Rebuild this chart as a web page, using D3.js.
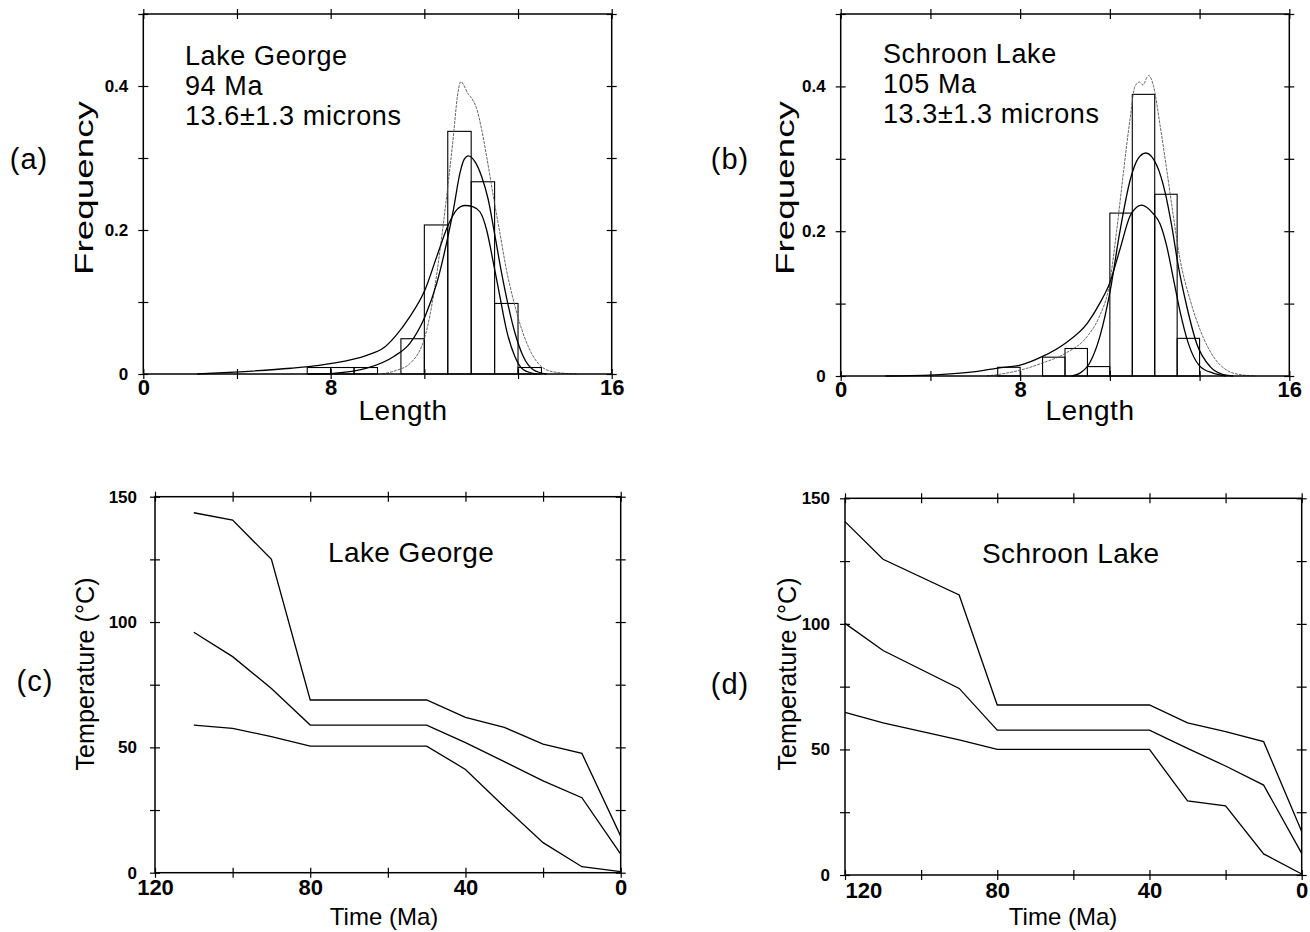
<!DOCTYPE html>
<html>
<head>
<meta charset="utf-8">
<script src="https://cdn.jsdelivr.net/npm/d3@7"></script>
<style>
  body { margin: 0; background: #fff; }
  svg text { font-family: "Liberation Sans", Arial, Helvetica, sans-serif; fill: #000; }
</style>
</head>
<body>
<svg id="fig" width="1310" height="932"></svg>
<script>
// ---- track length histograms (a, b) ----
const lengthTicks = [0, 4, 8, 12, 16, 20];
const lengthLabelValues = [0, 8, 20];
const lengthLabelText = ["0", "8", "16"];
const freqTicks = [0, 0.1, 0.2, 0.3, 0.4, 0.5];
const freqLabelValues = [0, 0.2, 0.4];
const freqLabelText = ["0", "0.2", "0.4"];

const lakeGeorgeInfo = ["Lake George", "94 Ma", "13.6±1.3 microns"];
const schroonInfo = ["Schroon Lake", "105 Ma", "13.3±1.3 microns"];

// bins are 1 micron wide, given by their left edge
const lakeGeorgeBinStart = [7, 8, 9, 11, 12, 13, 14, 15, 16];
const lakeGeorgeFreq = [0.009, 0.009, 0.009, 0.049, 0.207, 0.337, 0.267, 0.098, 0.009];
const schroonBinStart = [7, 9, 10, 11, 12, 13, 14, 15];
const schroonFreq = [0.012, 0.026, 0.038, 0.013, 0.225, 0.389, 0.251, 0.052];

// model length distributions, [length, frequency]
const lakeGeorgeTall = [[10.2,0],[10.8,0.005],[11.4,0.015],[12.07,0.057],[12.38,0.107],[12.67,0.172],[12.95,0.246],[13.24,0.330],[13.41,0.385],[13.56,0.406],[13.7,0.400],[13.85,0.390],[14.02,0.383],[14.23,0.369],[14.45,0.339],[14.66,0.302],[14.95,0.246],[15.23,0.195],[15.51,0.144],[15.8,0.103],[16.08,0.070],[16.51,0.033],[16.94,0.012],[17.5,0.003],[18.5,0]];
const lakeGeorgeMid = [[7.0,0],[8.11,0.001],[9.54,0.008],[10.68,0.024],[11.39,0.043],[12.03,0.080],[12.53,0.126],[12.95,0.182],[13.24,0.228],[13.52,0.279],[13.7,0.298],[13.88,0.303],[14.16,0.295],[14.45,0.274],[14.73,0.242],[15.02,0.191],[15.30,0.140],[15.59,0.094],[15.87,0.057],[16.23,0.024],[16.65,0.006],[17.22,0]];
const lakeGeorgeLow = [[2.3,0],[4.1,0.003],[6.3,0.008],[7.5,0.012],[8.11,0.015],[9.54,0.026],[10.25,0.036],[10.75,0.052],[11.39,0.080],[12.03,0.117],[12.53,0.163],[13.02,0.207],[13.38,0.228],[13.73,0.234],[14.09,0.232],[14.38,0.225],[14.66,0.200],[14.95,0.154],[15.23,0.107],[15.51,0.061],[15.87,0.024],[16.23,0.006],[16.8,0]];

const schroonTall = [[6.5,0],[7.0,0.002],[8.0,0.008],[9.0,0.018],[10.0,0.031],[11.0,0.055],[11.5,0.08],[12.0,0.13],[12.3,0.2],[12.6,0.28],[12.9,0.355],[13.12,0.400],[13.32,0.406],[13.47,0.402],[13.72,0.415],[13.95,0.400],[14.24,0.346],[14.53,0.286],[14.83,0.221],[15.13,0.161],[15.57,0.106],[16.02,0.064],[16.61,0.027],[17.21,0.008],[17.8,0.002],[18.5,0]];
const schroonMid = [[10.3,0],[10.67,0.004],[11.1,0.018],[11.56,0.055],[12.0,0.115],[12.45,0.2],[12.9,0.27],[13.25,0.300],[13.6,0.308],[14.09,0.291],[14.46,0.254],[14.76,0.207],[15.05,0.152],[15.43,0.096],[15.87,0.045],[16.47,0.013],[17.06,0.002],[17.5,0]];
const schroonLow = [[2.0,0],[4.4,0.002],[6.0,0.006],[7.0,0.011],[8.0,0.015],[9.0,0.027],[10.0,0.045],[11.0,0.073],[11.56,0.101],[12.0,0.129],[12.45,0.175],[12.9,0.221],[13.19,0.233],[13.42,0.236],[13.64,0.233],[13.94,0.224],[14.24,0.210],[14.53,0.180],[14.83,0.135],[15.13,0.089],[15.5,0.045],[16.0,0.014],[16.6,0.004],[17.2,0]];

// ---- thermal histories (c, d) ----
const timeTicks = [120, 100, 80, 60, 40, 20, 0];
const timeLabelValues = [120, 80, 40, 0];
const tempTicks = [0, 25, 50, 75, 100, 125, 150];
const tempLabelValues = [0, 50, 100, 150];

const lakeGeorgeTime = [110, 100, 90, 80, 50, 40, 30, 20, 10, 0];
const lakeGeorgeUpper = [143.6, 140.7, 125.0, 68.9, 68.9, 62.0, 58.0, 51.3, 47.6, 14.6];
const lakeGeorgeMiddle = [95.9, 86.2, 73.5, 58.9, 58.9, 51.9, 44.3, 36.6, 29.9, 7.4];
const lakeGeorgeLower = [58.9, 57.6, 54.3, 50.5, 50.5, 41.2, 26.3, 12.0, 2.4, 0.4];

const schroonTime = [120, 110, 90, 80, 40, 30, 20, 10, 0];
const schroonUpper = [140.7, 125.7, 111.5, 67.7, 67.7, 60.6, 57.1, 53.1, 17.3];
const schroonMiddle = [100.2, 89.4, 74.3, 57.7, 57.7, 50.4, 43.4, 35.8, 8.6];
const schroonLower = [64.8, 60.6, 53.8, 50.0, 50.0, 29.5, 27.5, 8.4, 0.4];

const svg = d3.select("#fig");
svg.append("rect").attr("width", 1310).attr("height", 932).attr("fill", "#fff");

// ticks that cross the frame line
function crossTicks(axisFn, scale, values, pos, horizontal) {
  const g = svg.append("g")
    .attr("transform", horizontal ? `translate(0,${pos})` : `translate(${pos},0)`)
    .call(axisFn(scale).tickValues(values).tickSize(5).tickFormat(""));
  g.select(".domain").remove();
  g.selectAll(".tick line")
    .attr(horizontal ? "y1" : "x1", -5)
    .attr(horizontal ? "y2" : "x2", 5)
    .attr("stroke", "#000").attr("stroke-width", 1.2);
}

function tickLabels(axisFn, scale, values, texts, pos, horizontal, pad, size) {
  const g = svg.append("g")
    .attr("transform", horizontal ? `translate(0,${pos})` : `translate(${pos},0)`)
    .call(axisFn(scale).tickValues(values).tickFormat((d, i) => texts[i]).tickSize(0).tickPadding(pad));
  g.select(".domain").remove();
  g.selectAll("text").attr("font-size", size).attr("font-weight", "bold");
  return g;
}

function frame(p) {
  svg.append("rect")
    .attr("x", p.left).attr("y", p.top)
    .attr("width", p.right - p.left).attr("height", p.bottom - p.top)
    .attr("fill", "none").attr("stroke", "#000").attr("stroke-width", 1.5);
}

function rotatedLabel(text, x, y, len) {
  svg.append("text")
    .attr("transform", `translate(${x},${y}) rotate(-90)`)
    .attr("text-anchor", "middle")
    .attr("font-size", 26)
    .attr("textLength", len).attr("lengthAdjust", "spacingAndGlyphs")
    .text(text);
}

function drawHist(p) {
  const x = d3.scaleLinear().domain([0, 20]).range([p.left, p.right]);
  const y = d3.scaleLinear().domain([0, 0.5]).range([p.bottom, p.top]);

  svg.append("g").selectAll("rect")
    .data(p.binStart)
    .enter().append("rect")
    .attr("x", d => x(d))
    .attr("y", (d, i) => y(p.freq[i]))
    .attr("width", d => x(d + 1) - x(d))
    .attr("height", (d, i) => y(0) - y(p.freq[i]))
    .attr("fill", "none").attr("stroke", "#000").attr("stroke-width", 1.1);

  const line = d3.line().x(d => x(d[0])).y(d => y(d[1])).curve(d3.curveMonotoneX);
  p.curves.forEach((c, i) => {
    svg.append("path").attr("d", line(c)).attr("fill", "none")
      .attr("stroke", i === 0 ? "#555" : "#000")
      .attr("stroke-width", i === 0 ? 0.9 : 1.3)
      .attr("stroke-dasharray", i === 0 ? "3,1" : null);
  });

  frame(p);
  crossTicks(d3.axisBottom, x, lengthTicks, p.bottom, true);
  crossTicks(d3.axisTop, x, lengthTicks, p.top, true);
  crossTicks(d3.axisLeft, y, freqTicks, p.left, false);
  crossTicks(d3.axisRight, y, freqTicks, p.right, false);
  tickLabels(d3.axisBottom, x, lengthLabelValues, lengthLabelText, p.bottom, true, 5, 22);
  tickLabels(d3.axisLeft, y, freqLabelValues, freqLabelText, p.left, false, 15, 17);

  p.info.forEach((t, i) => {
    svg.append("text").attr("x", p.infoX).attr("y", p.infoY + i * 30)
      .attr("font-size", 27).attr("letter-spacing", 0.6).text(t);
  });
  svg.append("text").attr("x", p.tagX).attr("y", 169).attr("text-anchor", "middle")
    .attr("font-size", 29).attr("letter-spacing", 1).text(p.tag);
  rotatedLabel("Frequency", p.yLabelX, 188, 174);
  svg.append("text").attr("x", p.xLabelX).attr("y", 420).attr("text-anchor", "middle")
    .attr("font-size", 28).attr("letter-spacing", 0.6).text("Length");
}

function drawHistory(p) {
  const x = d3.scaleLinear().domain([120, 0]).range([p.left, p.right]);
  const y = d3.scaleLinear().domain([0, 150]).range([p.bottom, p.top]);
  const line = d3.line().x(d => x(d[0])).y(d => y(d[1]));

  p.series.forEach(s => {
    svg.append("path").attr("d", line(p.time.map((t, i) => [t, s[i]])))
      .attr("fill", "none").attr("stroke", "#000").attr("stroke-width", 1.3);
  });

  frame(p);
  crossTicks(d3.axisBottom, x, timeTicks, p.bottom, true);
  crossTicks(d3.axisTop, x, timeTicks, p.top, true);
  crossTicks(d3.axisLeft, y, tempTicks, p.left, false);
  crossTicks(d3.axisRight, y, tempTicks, p.right, false);
  const xl = tickLabels(d3.axisBottom, x, timeLabelValues, timeLabelValues.map(String), p.bottom, true, 7, 22);
  if (p.firstStart) xl.select(".tick text").attr("text-anchor", "start");
  tickLabels(d3.axisLeft, y, tempLabelValues, tempLabelValues.map(String), p.left, false, p.yPad, 17);

  svg.append("text").attr("x", p.titleX).attr("y", p.titleY)
    .attr("font-size", 28).attr("letter-spacing", 0.4).text(p.title);
  svg.append("text").attr("x", p.tagX).attr("y", p.tagY).attr("text-anchor", "middle")
    .attr("font-size", 29).attr("letter-spacing", 1).text(p.tag);
  rotatedLabel("Temperature (°C)", p.yLabelX, 674, 193);
  svg.append("text").attr("x", p.xLabelX).attr("y", 925).attr("text-anchor", "middle")
    .attr("font-size", 24).text("Time (Ma)");
}

drawHist({
  left: 143.3, right: 611.7, top: 14, bottom: 374,
  binStart: lakeGeorgeBinStart, freq: lakeGeorgeFreq,
  curves: [lakeGeorgeTall, lakeGeorgeMid, lakeGeorgeLow],
  info: lakeGeorgeInfo, infoX: 185, infoY: 65,
  tag: "(a)", tagX: 29, yLabelX: 93, xLabelX: 403
});
drawHist({
  left: 840.7, right: 1289.3, top: 14, bottom: 376,
  binStart: schroonBinStart, freq: schroonFreq,
  curves: [schroonTall, schroonMid, schroonLow],
  info: schroonInfo, infoX: 883, infoY: 63,
  tag: "(b)", tagX: 730, yLabelX: 794, xLabelX: 1090
});
drawHistory({
  left: 155, right: 620.7, top: 496.7, bottom: 872.7,
  time: lakeGeorgeTime, series: [lakeGeorgeUpper, lakeGeorgeMiddle, lakeGeorgeLower],
  title: "Lake George", titleX: 328, titleY: 562,
  tag: "(c)", tagX: 35, tagY: 691, yLabelX: 94, xLabelX: 384, yPad: 18, firstStart: false
});
drawHistory({
  left: 845, right: 1301.7, top: 498.3, bottom: 875,
  time: schroonTime, series: [schroonUpper, schroonMiddle, schroonLower],
  title: "Schroon Lake", titleX: 982, titleY: 563,
  tag: "(d)", tagX: 730, tagY: 694, yLabelX: 796, xLabelX: 1063, yPad: 15, firstStart: true
});
</script>
</body>
</html>
